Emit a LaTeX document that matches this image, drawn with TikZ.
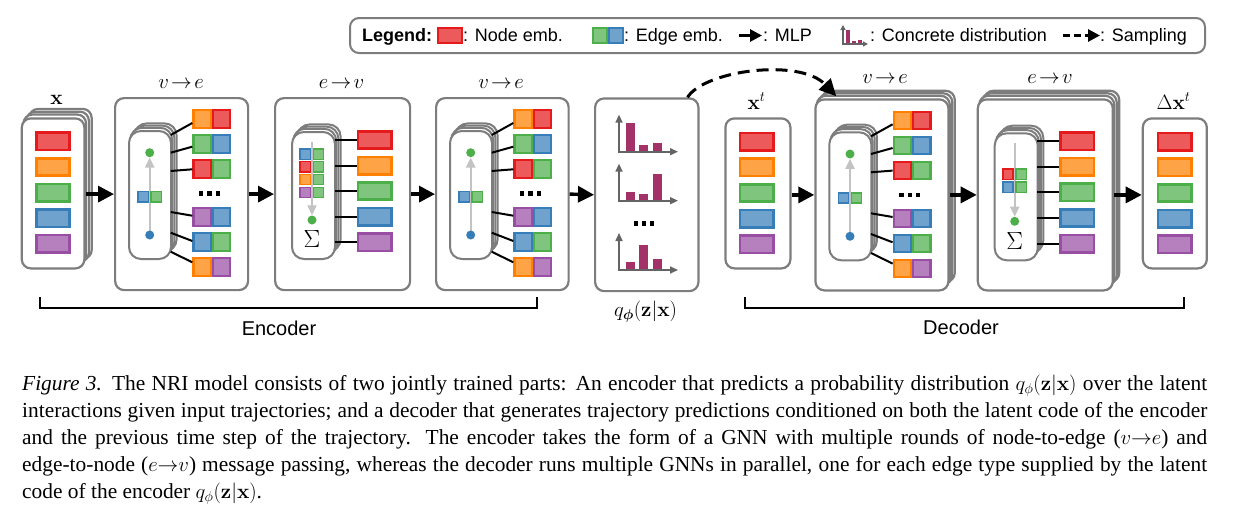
\documentclass[tikz,border=0pt]{standalone}
\usepackage{amsmath}
\usepackage{bm}
\usepackage[no-math]{fontspec}
\setmainfont{Liberation Serif}
\setsansfont{Liberation Sans}
\usetikzlibrary{arrows.meta,calc}
\definecolor{cred}{HTML}{E41A1C}
\definecolor{cblue}{HTML}{377EB8}
\definecolor{cgreen}{HTML}{4DAF4A}
\definecolor{cpurple}{HTML}{984EA3}
\definecolor{corange}{HTML}{FF7F00}
\definecolor{boxgray}{RGB}{125,125,125}
\definecolor{arrgray}{RGB}{195,195,195}
\definecolor{histbar}{RGB}{163,50,105}
\definecolor{axgray}{RGB}{100,100,100}

\newcommand{\backlayers}[7]{\foreach \k in {#6,...,1}{\draw[#1] (#2+#7*\k,#3-#7*\k) rectangle ++(#4,#5);}}

% v -> e block content, origin = top-left of the block
\newcommand{\VEcontent}[3]{%
\begin{scope}[shift={(#2,#3)}]
  \backlayers{pillbox}{14}{33}{42}{128}{3}{2.2}
  \node[pillbox,minimum width=42pt,minimum height=128pt,anchor=north west] (#1pill) at (14,33) {};
  \draw[gline] (35.7,138) -- (35.7,60.5);
  \node[semb=cblue] (#1sa) at (29.3,99.7) {};
  \node[semb=cgreen] (#1sb) at (42.3,99.7) {};
  \node[dotg] (#1dg) at (35.7,55.7) {};
  \node[dotb] (#1db) at (35.7,138) {};
  \foreach \rr/\ya/\colA/\colB in {1/22/corange/cred,2/47/cgreen/cblue,3/72/cred/cgreen,4/120/cpurple/cblue,5/145/cblue/cgreen,6/170/corange/cpurple}{
    \node[eemb=\colA] (#1l\rr) at (88.05,\ya) {};
    \node[eemb=\colB] (#1r\rr) at (107.45,\ya) {};
  }
  \foreach \rr/\ys/\dy in {1/38/-4,2/55.7/-2.7,3/74/-0.3,4/115/1.3,5/135.7/1,6/154.7/4.7}{
    \draw[link] (56.7,\ys) -- ([yshift=\dy pt]#1l\rr.west);
  }
  \foreach \i in {0,1,2}{\fill (85+8.3*\i,94.3) rectangle ++(4.2,4.3);}
\end{scope}}

% e -> v block content
\newcommand{\EVcontent}[4]{%
\begin{scope}[shift={(#2,#3)}]
  \backlayers{pillbox}{17}{34}{43}{127}{3}{2.2}
  \node[pillbox,minimum width=43pt,minimum height=127pt,anchor=north west] (#1pill) at (17,34) {};
  \draw[gline] (38,45) -- (38,118.3);
  \foreach \colA/\yy in {#4}{
    \node[semb=\colA] (#1g\colA) at (31.3,\yy) {};
    \node[semb=cgreen] (#1h\colA) at (44.6,\yy) {};
  }
  \node[dotg] (#1dg) at (38,123) {};
  \node[inner sep=0pt,font=\fontsize{23}{23}\selectfont] (#1sig) at (38,142.3) {$\Sigma$};
  \foreach \rr/\colA/\yy in {1/cred/43,2/corange/68.5,3/cgreen/94,4/cblue/119.7,5/cpurple/145.3}{
    \node[nemb=\colA] (#1n\rr) at (100.5,\yy) {};
    \draw[link] (60.5,\yy) -- (#1n\rr.west);
  }
\end{scope}}

\newcommand{\histo}[5]{%
  \fill[histbar] (#1+7,#2) rectangle ++(9,-#3);
  \fill[histbar] (#1+20.3,#2) rectangle ++(9,-#4);
  \fill[histbar] (#1+33.7,#2) rectangle ++(9,-#5);
  \draw[haxis] (#1,#2+0.8) -- (#1,#2-37);
  \draw[haxis] (#1-0.8,#2) -- (#1+59,#2);
}

\begin{document}
\begin{tikzpicture}[x=1pt,y=-1pt,
  bigbox/.style={draw=boxgray,line width=2.2pt,rounded corners=9pt,fill=white,inner sep=0pt},
  pillbox/.style={draw=boxgray,line width=2pt,rounded corners=12pt,fill=white,inner sep=0pt},
  nemb/.style={draw=#1,fill=#1!72!white,line width=2.6pt,minimum width=33.4pt,minimum height=17.4pt,inner sep=0pt},
  eemb/.style={draw=#1,fill=#1!72!white,line width=2.2pt,minimum size=17.3pt,inner sep=0pt},
  semb/.style={draw=#1,fill=#1!72!white,line width=1.4pt,minimum size=10.3pt,inner sep=0pt},
  dotg/.style={circle,fill=cgreen,minimum size=9pt,inner sep=0pt},
  dotb/.style={circle,fill=cblue,minimum size=9pt,inner sep=0pt},
  link/.style={line width=2pt,black},
  gline/.style={line width=2pt,draw=arrgray,-{Triangle[length=10pt,width=9pt,fill=arrgray]}},
  mlp/.style={line width=3.4pt,-{Triangle[length=16pt,width=16pt]}},
  samp/.style={line width=3pt,dash pattern=on 12pt off 7pt,-{Triangle[length=17pt,width=16pt]}},
  haxis/.style={line width=1.6pt,draw=axgray,-{Triangle[length=8pt,width=7pt]}},
  lbl/.style={inner sep=0pt,anchor=base,font=\fontsize{22}{22}\selectfont},
  sflbl/.style={inner sep=0pt,anchor=base west,font=\sffamily\fontsize{18}{18}\selectfont},
  captxt/.style={inner sep=0pt,anchor=base west,font=\fontsize{21.4}{27}\selectfont},
]
\useasboundingbox (0,0) rectangle (1233,514);

% ---------------- legend ----------------
\node[draw=boxgray,line width=2pt,rounded corners=9pt,minimum width=855pt,minimum height=35pt,anchor=north west,inner sep=0pt] (legend) at (349,17) {};
\node[sflbl] (lg0) at (362,41.5) {\bfseries Legend:};
\node[draw=cred,fill=cred!72!white,line width=2.2pt,minimum width=23.8pt,minimum height=14.8pt,inner sep=0pt] (lgn) at (450,35.5) {};
\node[sflbl] (lg1) at (463,41.5) {: Node emb.};
\node[draw=cgreen,fill=cgreen!72!white,line width=2pt,minimum width=14pt,minimum height=15pt,inner sep=0pt] (lgea) at (600,35.5) {};
\node[draw=cblue,fill=cblue!72!white,line width=2pt,minimum width=14pt,minimum height=15pt,inner sep=0pt] (lgeb) at (616,35.5) {};
\node[sflbl] (lg2) at (624,41.5) {: Edge emb.};
\coordinate (lgma) at (739,35.5);
\coordinate (lgmb) at (762,35.5);
\draw[line width=2.8pt,-{Triangle[length=12pt,width=12pt]}] (lgma) -- (lgmb);
\node[sflbl] (lg3) at (763,41.5) {: MLP};
\fill[histbar] (845.5,44) rectangle ++(4,-14);
\fill[histbar] (851.5,44) rectangle ++(4,-3.5);
\fill[histbar] (857.5,44) rectangle ++(4,-4.5);
\draw[line width=1.2pt,draw=axgray,-{Triangle[length=5pt,width=5pt]}] (843,44.5) -- (843,25);
\draw[line width=1.2pt,draw=axgray,-{Triangle[length=5pt,width=5pt]}] (842.5,44) -- (868,44);
\node[sflbl] (lg4) at (870,41.5) {: Concrete distribution};
\coordinate (lgsa) at (1063,35.5);
\coordinate (lgsb) at (1100,35.5);
\draw[line width=2.8pt,dash pattern=on 7pt off 4pt,-{Triangle[length=12pt,width=12pt]}] (lgsa) -- (lgsb);
\node[sflbl] (lg5) at (1100,41.5) {: Sampling};

% ---------------- encoder ----------------
\backlayers{bigbox}{20.7}{117.3}{62.6}{150}{3}{2.8}
\node[bigbox,minimum width=62.6pt,minimum height=150pt,anchor=north west] (xin) at (20.7,117.3) {};
\foreach \rr/\colA/\yy in {1/cred/141.3,2/corange/166.9,3/cgreen/192.5,4/cblue/218.1,5/cpurple/243.7}{
  \node[nemb=\colA] (xe\rr) at (53,\yy) {};
}
\node[lbl] (xlbl) at (56.5,104) {$\mathbf{x}$};

\node[bigbox,minimum width=133pt,minimum height=192pt,anchor=north west] (enc1) at (114,97) {};
\VEcontent{ea}{114}{97}
\node[lbl] (enc1lbl) at (181,88) {$v\!\to\!e$};

\node[bigbox,minimum width=135pt,minimum height=192pt,anchor=north west] (enc2) at (274,97) {};
\EVcontent{eb}{274}{97}{cblue/57.2,cred/69.9,corange/82.6,cpurple/95.4}
\node[lbl] (enc2lbl) at (341.5,88) {$e\!\to\!v$};

\node[bigbox,minimum width=132.5pt,minimum height=192pt,anchor=north west] (enc3) at (435,97) {};
\VEcontent{ec}{435}{97}
\node[lbl] (enc3lbl) at (501,88) {$v\!\to\!e$};

\node[bigbox,minimum width=103.3pt,minimum height=192.7pt,anchor=north west] (q) at (594,97.3) {};
\histo{619}{151.7}{29}{6.7}{9}
\histo{619}{200.7}{8.7}{6.7}{26.7}
\histo{619}{270}{8.3}{25}{11}
\foreach \i in {0,1,2}{\fill (633.5+8.3*\i,221.2) rectangle ++(4.2,4.3);}
\node[lbl] (qlbl) at (645.5,316) {$q_{\bm{\phi}}(\mathbf{z}|\mathbf{x})$};

% ---------------- decoder ----------------
\node[bigbox,minimum width=65pt,minimum height=150pt,anchor=north west] (xt) at (724.3,117.3) {};
\foreach \rr/\colA/\yy in {1/cred/141.8,2/corange/167.4,3/cgreen/193,4/cblue/218.6,5/cpurple/244.2}{
  \node[nemb=\colA] (xte\rr) at (756.5,\yy) {};
}
\node[lbl] (xtlbl) at (756.5,109.3) {$\mathbf{x}^t$};

\backlayers{bigbox}{814.3}{98.3}{133}{191}{3}{2.5}
\node[bigbox,minimum width=133pt,minimum height=191pt,anchor=north west] (dec1) at (814.3,98.3) {};
\VEcontent{da}{814.3}{98.3}
\node[lbl] (dec1lbl) at (885,83.3) {$v\!\to\!e$};

\backlayers{bigbox}{976.7}{98.3}{135}{191}{3}{2.5}
\node[bigbox,minimum width=135pt,minimum height=191pt,anchor=north west] (dec2) at (976.7,98.3) {};
\EVcontent{db}{976.7}{98.3}{cred/75.9,cblue/88.9}
\node[lbl] (dec2lbl) at (1050,83.3) {$e\!\to\!v$};

\node[bigbox,minimum width=64pt,minimum height=150pt,anchor=north west] (dx) at (1141.7,117.3) {};
\foreach \rr/\colA/\yy in {1/cred/141.8,2/corange/167.4,3/cgreen/193,4/cblue/218.6,5/cpurple/244.2}{
  \node[nemb=\colA] (dxe\rr) at (1174.5,\yy) {};
}
\node[lbl] (dxlbl) at (1173.5,109.3) {$\Delta\mathbf{x}^t$};

% ---------------- connectors ----------------
\draw[mlp] (xin.east |- enc1.west) -- (enc1.west);
\draw[mlp] (enc1.east) -- (enc2.west);
\draw[mlp] (enc2.east) -- (enc3.west);
\draw[mlp] (enc3.east) -- (q.west);
\draw[mlp] (xt.east |- dec1.west) -- (dec1.west);
\draw[mlp] (dec1.east) -- (dec2.west);
\draw[mlp] (dec2.east) -- (dx.west |- dec2.east);
\draw[samp] ([xshift=-12pt]q.north east) .. controls (705,70) and (800,58) .. ($(dec1.north west)+(22,-2)$);

% ---------------- brackets ----------------
\coordinate (ebl) at (40,297);
\coordinate (ebr) at (537,297);
\draw[line width=2.5pt] (ebl) -- ++(0,11) -| (ebr);
\node[inner sep=0pt,anchor=base,font=\sffamily\fontsize{20}{20}\selectfont] (enclbl) at (279,335) {Encoder};
\coordinate (dbl) at (745,297);
\coordinate (dbr) at (1184,297);
\draw[line width=2.5pt] (dbl) -- ++(0,11) -| (dbr);
\node[inner sep=0pt,anchor=base,font=\sffamily\fontsize{20}{20}\selectfont] (declbl) at (961,334) {Decoder};

% ---------------- caption ----------------
\node[captxt] (cap1) at (22,390) {\makebox[1185pt][s]{\textit{Figure 3.} The NRI model consists of two jointly trained parts: An encoder that predicts a probability distribution $q_\phi(\mathbf{z}|\mathbf{x})$ over the latent}};
\node[captxt] (cap2) at (22,417) {\makebox[1185pt][s]{interactions given input trajectories; and a decoder that generates trajectory predictions conditioned on both the latent code of the encoder}};
\node[captxt] (cap3) at (22,444) {\makebox[1185pt][s]{and the previous time step of the trajectory. The encoder takes the form of a GNN with multiple rounds of node-to-edge ($v{\to}e$) and}};
\node[captxt] (cap4) at (22,471) {\makebox[1185pt][s]{edge-to-node ($e{\to}v$) message passing, whereas the decoder runs multiple GNNs in parallel, one for each edge type supplied by the latent}};
\node[captxt] (cap5) at (22,498) {code of the encoder $q_\phi(\mathbf{z}|\mathbf{x})$.};
\end{tikzpicture}
\end{document}
